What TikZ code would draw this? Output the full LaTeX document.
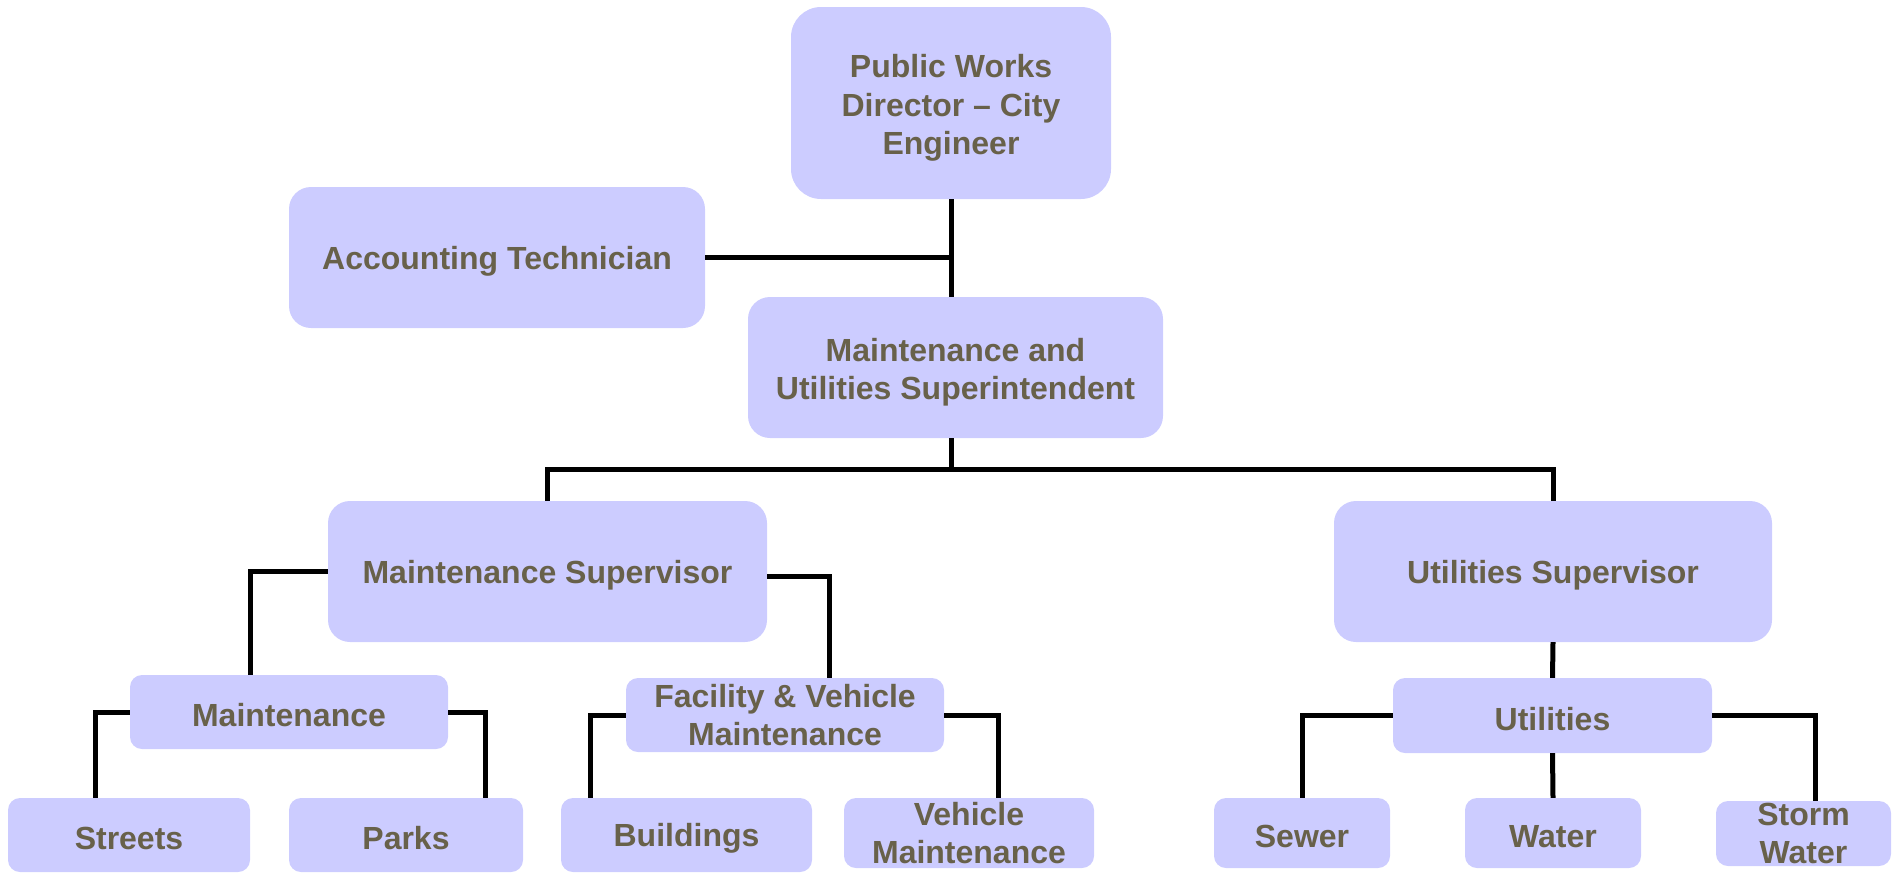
\documentclass[tikz,border=0pt]{standalone}
\usepackage{fontspec}
\setmainfont{Liberation Sans}
\usetikzlibrary{calc}
\definecolor{boxfill}{RGB}{204,204,255}
\definecolor{txt}{RGB}{104,97,74}
\begin{document}
\begin{tikzpicture}[x=1pt,y=-1pt,
  box/.style={rectangle, rounded corners=#1, fill=boxfill, draw=none, inner sep=0pt,
    align=center, text=txt, font=\fontsize{32}{38.5}\selectfont\bfseries,
    execute at begin node={\rule{0pt}{30pt}}},
  box/.default=12pt,
  conn/.style={draw=black, line width=5pt, line join=miter}]
\useasboundingbox (0,0) rectangle (1902,873);
% nodes
\node[box=30pt, minimum width=320pt, minimum height=192pt] (pw) at (951,103) {\rule{0pt}{33pt}Public Works\\Director – City\\Engineer};
\node[box=22pt, minimum width=416pt, minimum height=141pt] (acc) at (497,257.5) {Accounting Technician};
\node[box=22pt, minimum width=415pt, minimum height=141pt] (mus) at (955.5,367.5) {\rule{0pt}{33pt}Maintenance and\\Utilities Superintendent};
\node[box=22pt, minimum width=439pt, minimum height=141pt] (ms) at (547.5,571.5) {Maintenance Supervisor};
\node[box=22pt, minimum width=438pt, minimum height=141pt] (us) at (1553,571.5) {Utilities Supervisor};
\node[box, minimum width=318pt, minimum height=74pt] (maint) at (289,712) {Maintenance};
\node[box, minimum width=318pt, minimum height=74pt] (fvm) at (785,715) {Facility \& Vehicle\\Maintenance};
\node[box, minimum width=319pt, minimum height=75pt] (util) at (1552.5,715.5) {Utilities};
\node[box, minimum width=242pt, minimum height=74pt] (streets) at (129,835) {Streets};
\node[box, minimum width=234pt, minimum height=74pt] (parks) at (406,835) {Parks};
\node[box, minimum width=251pt, minimum height=74pt] (bldg) at (686.5,835) {Buildings};
\node[box, minimum width=250pt, minimum height=70pt] (veh) at (969,833) {Vehicle\\Maintenance};
\node[box, minimum width=176pt, minimum height=70pt] (sewer) at (1302,833) {Sewer};
\node[box, minimum width=176pt, minimum height=70pt] (water) at (1553,833) {Water};
\node[box, minimum width=175pt, minimum height=65pt] (storm) at (1803.5,833.5) {Storm\\Water};
% helper coordinates
\coordinate (bus) at (0,469);
\coordinate (mL) at ($(maint.north west)!0.38!(maint.north east)$);
\coordinate (fR) at ($(fvm.north west)!0.64!(fvm.north east)$);
\coordinate (sT) at ($(streets.north west)!0.36!(streets.north east)$);
\coordinate (pT) at ($(parks.north west)!0.84!(parks.north east)$);
\coordinate (bT) at ($(bldg.north west)!0.12!(bldg.north east)$);
\coordinate (vT) at ($(veh.north west)!0.616!(veh.north east)$);
\coordinate (stT) at ($(storm.north west)!0.566!(storm.north east)$);
% connectors
\draw[conn] (pw.south) -- (pw.south |- mus.north);
\draw[conn] (acc.east) -- (acc.east -| pw.south);
\draw[conn] (pw.south |- mus.south) -- (pw.south |- bus);
\draw[conn] (ms.north) -- (ms.north |- bus) -- (us.north |- bus) -- (us.north);
\draw[conn] (ms.west) -| (mL);
\draw[conn] ([yshift=-5pt]ms.east) -| (fR);
\draw[conn] (maint.west) -| (sT);
\draw[conn] (maint.east) -| (pT);
\draw[conn] (fvm.west) -| (bT);
\draw[conn] (fvm.east) -| (vT);
\draw[conn] (us.south) -- (util.north);
\draw[conn] (util.west) -| (sewer.north);
\draw[conn] (util.south) -- (water.north);
\draw[conn] (util.east) -| (stT);
\end{tikzpicture}
\end{document}
